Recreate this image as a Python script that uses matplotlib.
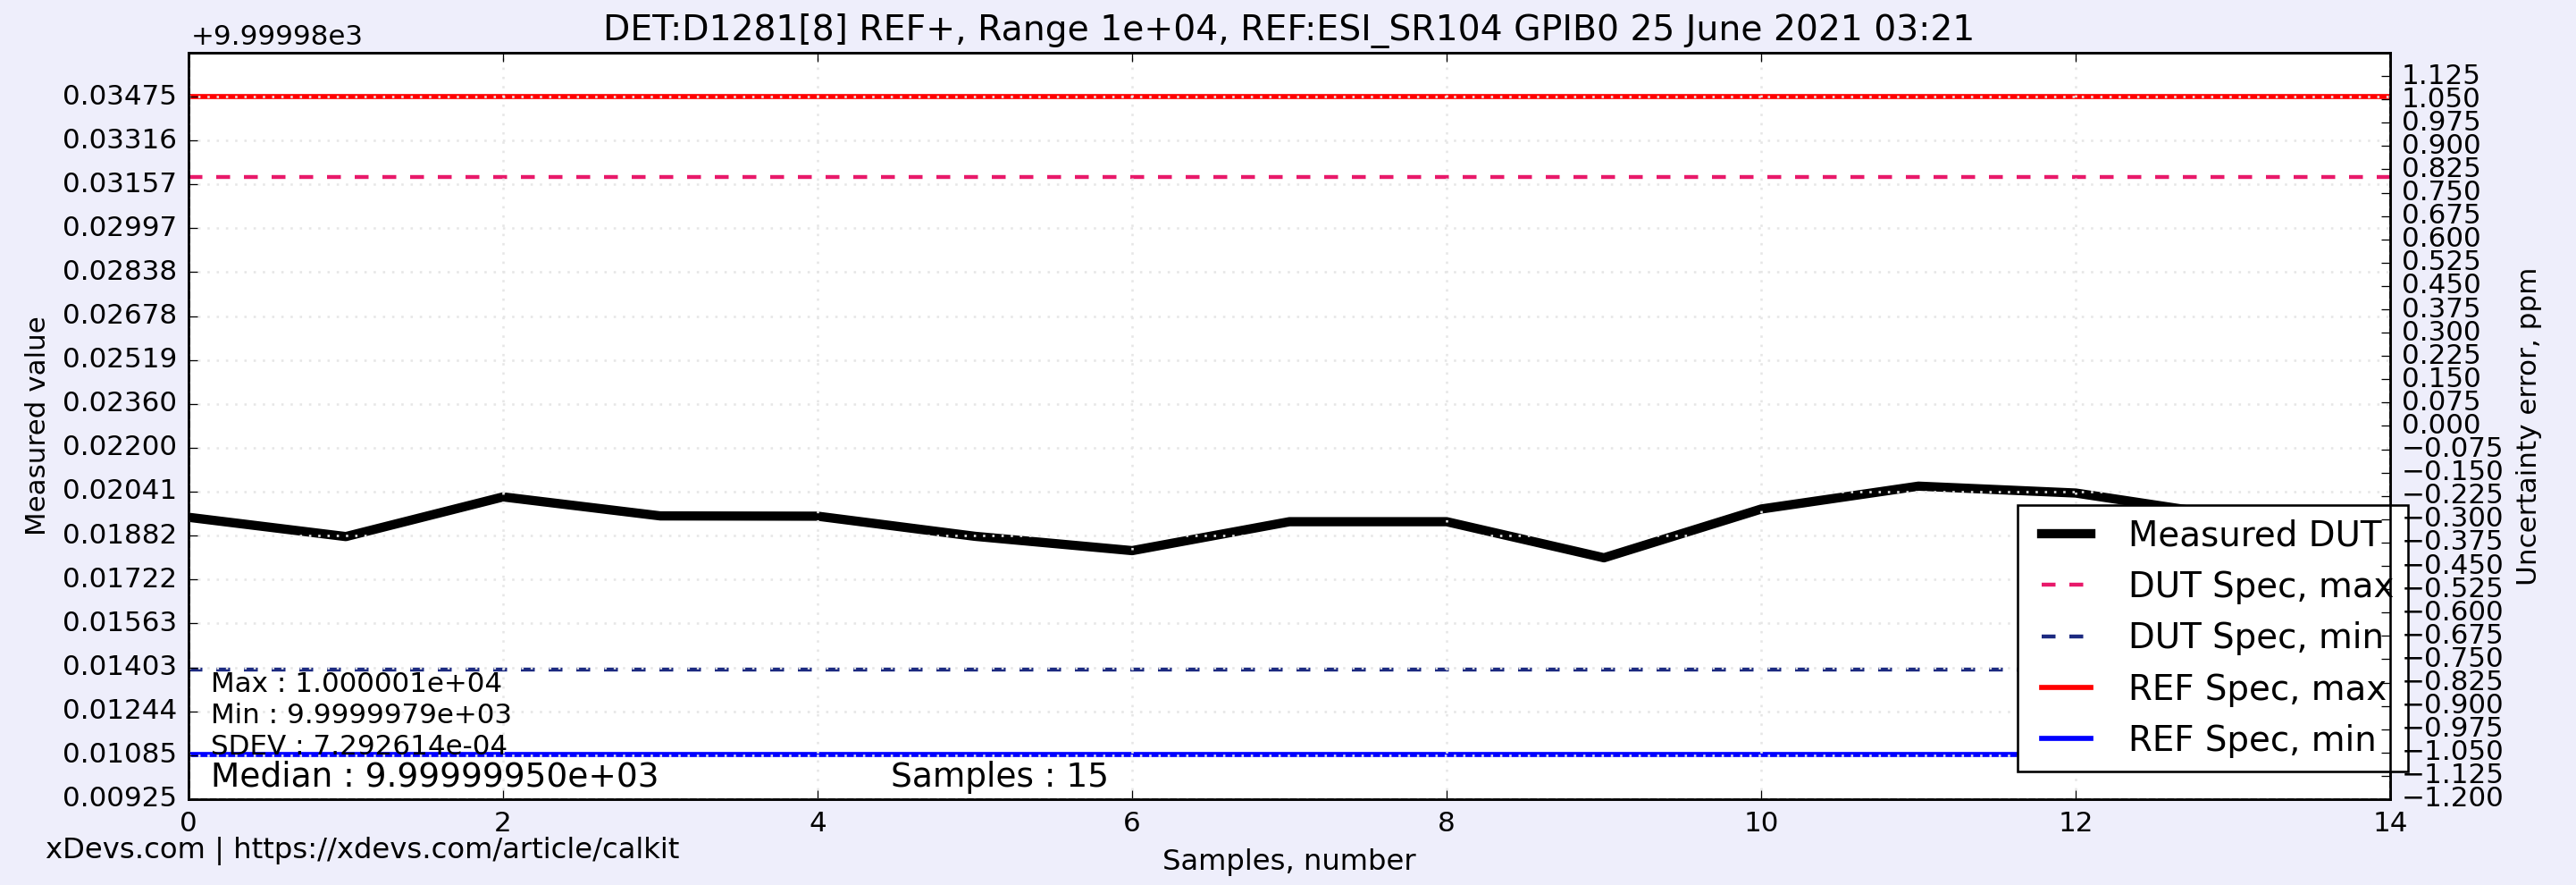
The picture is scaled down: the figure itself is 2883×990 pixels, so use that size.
import matplotlib
matplotlib.use("Agg")
import matplotlib.pyplot as plt

plt.style.use("classic")
plt.rcParams["font.family"] = "DejaVu Sans"

# readings are shown as 9999.98 + value (offset axis)
offset_label = "+9.99998e3"
samples = [0, 1, 2, 3, 4, 5, 6, 7, 8, 9, 10, 11, 12, 13, 14]
measured = [0.01948, 0.01878, 0.02022, 0.01953, 0.01952, 0.01879, 0.01827,
            0.01932, 0.01932, 0.01801, 0.01978, 0.02061, 0.02036, 0.01950, 0.01934]

dut_spec_max = 0.03182
dut_spec_min = 0.01394
ref_spec_max = 0.03475
ref_spec_min = 0.01086

left_ticks = ["0.00925", "0.01085", "0.01244", "0.01403", "0.01563", "0.01722",
              "0.01882", "0.02041", "0.02200", "0.02360", "0.02519", "0.02678",
              "0.02838", "0.02997", "0.03157", "0.03316", "0.03475"]
left_top = 0.03634
ppm_ticks = [-1.200, -1.125, -1.050, -0.975, -0.900, -0.825, -0.750, -0.675,
             -0.600, -0.525, -0.450, -0.375, -0.300, -0.225, -0.150, -0.075,
             0.000, 0.075, 0.150, 0.225, 0.300, 0.375, 0.450, 0.525,
             0.600, 0.675, 0.750, 0.825, 0.900, 0.975, 1.050, 1.125]
ppm_lim = (-1.2, 1.2)
x_ticks = [0, 2, 4, 6, 8, 10, 12, 14]

title = "DET:D1281[8] REF+, Range 1e+04, REF:ESI_SR104 GPIB0 25 June 2021 03:21"
stats = ["Max : 1.000001e+04", "Min : 9.9999979e+03", "SDEV : 7.292614e-04"]
median_txt = "Median : 9.99999950e+03"
samples_txt = "Samples : 15"
footer = "xDevs.com | https://xdevs.com/article/calkit"

bg = "#eeeefb"
fig = plt.figure(figsize=(15.5, 990 / 186), dpi=186, facecolor=bg)
ax1 = fig.add_axes([0.0732, 0.097, 0.8547, 0.8434])

n = len(samples)
ax1.plot(samples, measured, color="k", lw=4, label="Measured DUT")
ax1.plot(samples, [dut_spec_max] * n, color="#e8196a", lw=1.7, ls="--", label="DUT Spec, max")
ax1.plot(samples, [dut_spec_min] * n, color="#1c2a80", lw=1.7, ls="--", label="DUT Spec, min")
ax1.plot(samples, [ref_spec_max] * n, color="#ff0000", lw=2.2, label="REF Spec, max")
ax1.plot(samples, [ref_spec_min] * n, color="#0000ff", lw=2.2, label="REF Spec, min")

ax1.set_xlim(0, 14)
ax1.set_xticks(x_ticks)
ax1.set_ylim(float(left_ticks[0]), left_top)
ax1.set_yticks([float(t) for t in left_ticks])
ax1.set_yticklabels(left_ticks)
ax1.grid(True, color="#e6e6e6", linestyle=":", linewidth=1.0)
ax1.tick_params(labelsize=12, pad=5)
ax1.set_xlabel("Samples, number", fontsize=12.5, labelpad=5)
ax1.set_ylabel("Measured value", fontsize=12)
ax1.set_title(title, fontsize=15.2, pad=5.4)
ax1.text(0.001, 1.011, offset_label, transform=ax1.transAxes, fontsize=12,
         ha="left", va="baseline")

for txt, yy in zip(stats, [0.1437, 0.1018, 0.0599]):
    ax1.text(0.0101, yy, txt, transform=ax1.transAxes, fontsize=12, va="baseline")
ax1.text(0.0101, 0.0168, median_txt, transform=ax1.transAxes, fontsize=14.5, va="baseline")
ax1.text(0.319, 0.0168, samples_txt, transform=ax1.transAxes, fontsize=14.5, va="baseline")

ax1.legend(loc="upper left", bbox_to_anchor=(0.8308, 0.394), borderaxespad=0,
           fontsize=15, fancybox=False)

ax2 = ax1.twinx()
ax2.set_ylim(*ppm_lim)
ax2.set_yticks(ppm_ticks)
ax2.set_yticklabels([f"{v:.3f}".replace("-", "\u2212") for v in ppm_ticks])
ax2.tick_params(labelsize=12, pad=5)
ax2.set_ylabel("Uncertainty error, ppm", fontsize=12)

fig.text(0.0177, 0.030, footer, fontsize=12.5, va="baseline")

fig.savefig("out.png", dpi=186, facecolor=bg)
